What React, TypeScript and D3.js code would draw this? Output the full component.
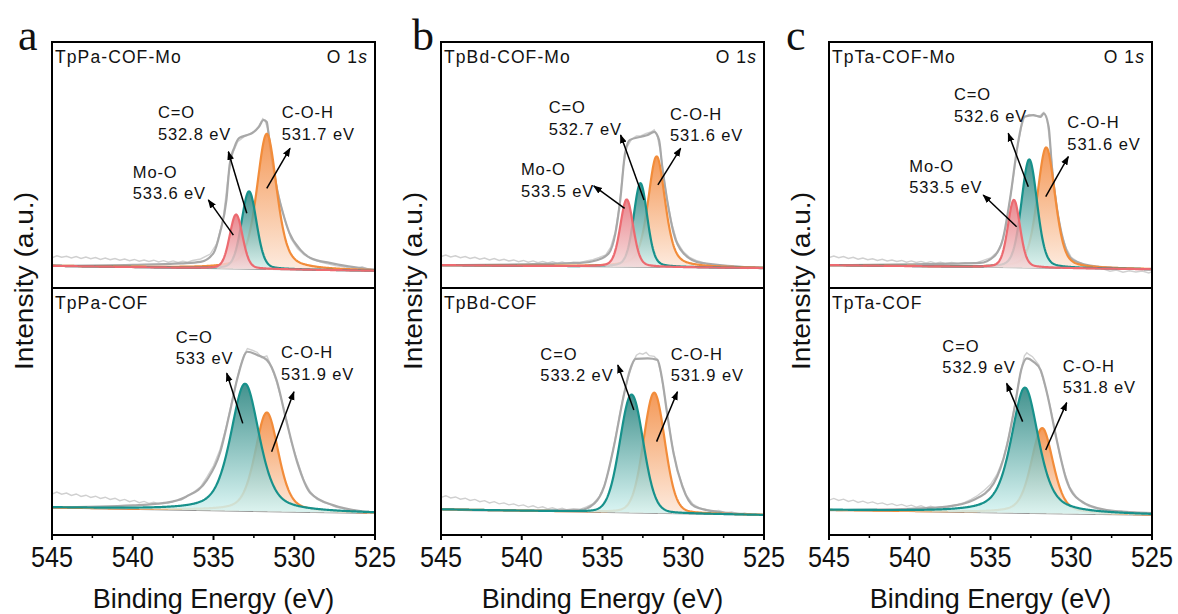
import React from 'react';
import * as d3 from 'd3';

type Pt = [number, number];
// [centre (eV), height above background, FWHM (eV), Lorentzian fraction]
type Peak = [number, number, number, number];
// [first line, second line, eV, intensity of first baseline]
type Label = [string, string, number, number];
// [tail eV, tail intensity, head eV, head intensity]
type Arrow = [number, number, number, number];

const xTicks = [545, 540, 535, 530, 525];
const xMinorTicks = [542.5, 537.5, 532.5, 527.5];
const letters = ['a', 'b', 'c'];
const topNames = ['TpPa-COF-Mo', 'TpBd-COF-Mo', 'TpTa-COF-Mo'];
const bottomNames = ['TpPa-COF', 'TpBd-COF', 'TpTa-COF'];

// linear background: value at 545 eV, value at 525 eV
const bgATop = [9.0, 7.0];
const bgABot = [11.1, 8.8];
const bgBTop = [9.3, 8.1];
const bgBBot = [10.4, 8.1];
const bgCTop = [9.3, 7.6];
const bgCBot = [10.1, 8.1];

// fitted components, order: C-O-H, C=O, Mo-O
const peaksATop: Peak[] = [[531.7, 55, 1.45, 0.45], [532.8, 31.5, 1.1, 0.2], [533.6, 22, 0.95, 0.2]];
const peaksABot: Peak[] = [[531.7, 40, 1.7, 0.4], [533.05, 51.5, 2.1, 0.5]];
const peaksBTop: Peak[] = [[531.65, 45, 1.25, 0.45], [532.65, 34, 1.0, 0.25], [533.5, 27.4, 0.95, 0.25]];
const peaksBBot: Peak[] = [[531.8, 48.7, 1.55, 0.15], [533.2, 47.8, 1.7, 0.1]];
const peaksCTop: Peak[] = [[531.55, 49, 1.3, 0.35], [532.6, 44, 1.15, 0.25], [533.55, 27.5, 0.9, 0.25]];
const peaksCBot: Peak[] = [[531.8, 34.5, 1.6, 0.4], [532.87, 50.8, 2.0, 0.55]];

// fit envelopes
const envATop: Pt[] = [[545, 9.0], [540, 9.4], [537, 10.0], [535.8, 10.6], [535.0, 14.2], [534.6, 22.4], [534.2, 35.8], [534.0, 50.0], [533.7, 57.3], [533.4, 61.0], [532.9, 62.2], [532.6, 63.0], [532.2, 65.4], [531.9, 68.3], [531.7, 67.5], [531.6, 63.0], [531.4, 53.3], [531.1, 41.1], [530.7, 30.5], [530.3, 22.4], [529.6, 15.4], [529.0, 12.2], [527.8, 10.2], [525, 7.3]];
const envABot: Pt[] = [[545, 11.1], [540, 12.0], [537.9, 13.1], [536.7, 15.5], [535.4, 22.3], [534.6, 33.2], [534.0, 49.4], [533.5, 64.0], [532.9, 74.2], [532.3, 72.9], [531.7, 70.9], [531.1, 62.8], [530.5, 46.6], [529.8, 29.1], [529.0, 17.0], [527.6, 12.1], [525, 9.0]];
const envBTop: Pt[] = [[545, 9.3], [540, 9.6], [536.4, 10.2], [535.3, 11.4], [534.6, 14.2], [534.2, 22.3], [533.9, 35.8], [533.6, 54.9], [533.3, 60.2], [532.6, 61.5], [532.2, 62.2], [531.8, 63.5], [531.5, 60.2], [531.3, 49.3], [531.0, 35.8], [530.6, 22.4], [530.0, 14.2], [528.9, 10.2], [525, 8.1]];
const envBBot: Pt[] = [[545, 10.4], [540, 9.9], [536.4, 10.1], [535.5, 12.8], [534.9, 19.6], [534.3, 35.7], [533.7, 56.0], [533.3, 66.8], [532.95, 71.3], [532.2, 71.5], [531.6, 70.9], [531.3, 62.8], [531.0, 49.3], [530.6, 33.1], [530.05, 19.6], [529.3, 11.5], [527.9, 9.4], [525, 8.1]];
const envCTop: Pt[] = [[545, 9.3], [540, 9.6], [535.65, 10.2], [534.8, 12.7], [534.25, 19.5], [533.8, 35.8], [533.3, 58.8], [532.9, 69.6], [532.35, 70.3], [531.9, 69.6], [531.7, 71.0], [531.4, 65.6], [531.2, 49.3], [530.9, 33.0], [530.5, 19.5], [529.9, 11.4], [528.4, 8.7], [525, 7.6]];
const envCBot: Pt[] = [[545, 10.1], [540, 10.6], [537.7, 11.5], [536.05, 14.2], [534.8, 20.9], [534.0, 35.7], [533.5, 51.9], [533.1, 66.8], [532.75, 71.5], [532.35, 70.2], [531.9, 66.8], [531.5, 57.4], [530.9, 38.5], [530.3, 22.3], [529.5, 14.2], [527.8, 10.1], [525, 8.9]];

// measured spectra
const rawATop: Pt[] = [[545, 12.3], [544.7, 13.1], [544.4, 12.5], [544.1, 12.9], [543.8, 12.2], [543.5, 12.8], [543.2, 12.0], [542.9, 12.6], [542.6, 11.9], [542.3, 12.4], [542, 11.6], [541.7, 12.2], [541.4, 11.5], [541.1, 12.0], [540.8, 11.3], [540.5, 11.8], [540.2, 11.1], [539.9, 11.6], [539.6, 10.9], [539.3, 11.4], [539, 10.8], [538.7, 11.3], [538.4, 10.6], [538.1, 11.1], [537.8, 10.5], [537.5, 11.0], [537.2, 10.4], [536.9, 10.9], [536.6, 10.5], [536.3, 11.2], [535.8, 11.8], [535.2, 13.8], [534.8, 18], [534.4, 28], [534.1, 45], [533.8, 55], [533.5, 59.5], [533.1, 61.5], [532.8, 62.6], [532.5, 63.5], [532.2, 65.8], [531.95, 68.8], [531.8, 67.8], [531.6, 64], [531.4, 54], [531.1, 42], [530.8, 33], [530.5, 26], [530.2, 20], [529.8, 16], [529.4, 13.5], [529, 12.2], [528.6, 11], [528.2, 10.2], [527.8, 9.6], [527.4, 9.0], [527, 8.7], [526.6, 8.2], [526.2, 7.9], [525.8, 8.6], [525.4, 7.6], [525, 7.9]];
const rawABot: Pt[] = [[545, 16.6], [544.7, 17.4], [544.4, 16.5], [544.1, 17.0], [543.8, 16.0], [543.5, 16.6], [543.2, 15.6], [542.9, 16.1], [542.6, 15.2], [542.3, 15.7], [542, 14.8], [541.7, 15.3], [541.4, 14.4], [541.1, 14.9], [540.8, 13.9], [540.5, 14.4], [540.2, 13.5], [539.9, 14.0], [539.6, 13.1], [539.3, 13.6], [539, 12.8], [538.7, 13.3], [538.4, 12.6], [538.1, 13.2], [537.8, 12.9], [537.4, 13.8], [537, 14.1], [536.6, 15.8], [536.2, 17.5], [535.8, 19.5], [535.4, 23.5], [535, 28], [534.6, 34.5], [534.2, 44], [533.8, 56], [533.4, 67], [533.1, 73], [532.9, 75.5], [532.6, 74.8], [532.3, 74.0], [532, 71.8], [531.7, 72.5], [531.4, 68], [531.1, 62], [530.8, 55], [530.5, 47.5], [530.2, 38], [529.8, 30], [529.4, 22], [529, 17.5], [528.6, 14.5], [528.2, 13.2], [527.8, 12.4], [527.4, 11.2], [527, 10.8], [526.6, 10.0], [526.2, 9.8], [525.8, 9.2], [525.4, 9.6], [525, 8.9]];
const rawBTop: Pt[] = [[545, 12.8], [544.7, 13.4], [544.4, 12.6], [544.1, 13.1], [543.8, 12.3], [543.5, 12.8], [543.2, 12.0], [542.9, 12.5], [542.6, 11.7], [542.3, 12.2], [542, 11.4], [541.7, 12.0], [541.4, 11.2], [541.1, 11.7], [540.8, 11.0], [540.5, 11.4], [540.2, 10.7], [539.9, 11.2], [539.6, 10.5], [539.3, 11.0], [539, 10.3], [538.7, 10.8], [538.4, 10.2], [538.1, 10.7], [537.8, 10.1], [537.5, 10.6], [537.2, 10.0], [536.8, 10.5], [536.4, 10.3], [536, 11.0], [535.6, 11.5], [535.2, 12.4], [534.8, 13.5], [534.5, 16.5], [534.2, 23], [533.95, 34], [533.7, 50], [533.5, 57], [533.2, 60.5], [532.9, 61.8], [532.6, 61.9], [532.3, 62.8], [532, 63.4], [531.8, 64.3], [531.6, 61.5], [531.4, 55], [531.2, 45], [531, 36], [530.7, 26], [530.4, 19], [530, 14.8], [529.6, 12.4], [529.2, 11.2], [528.8, 10.4], [528.4, 9.5], [528, 9.2], [527.6, 8.6], [527.2, 9.0], [526.8, 8.3], [526.4, 8.7], [526, 7.9], [525.6, 8.4], [525.2, 7.6], [525, 8.0]];
const rawBBot: Pt[] = [[545, 15.2], [544.7, 15.9], [544.4, 15.0], [544.1, 15.4], [543.8, 14.5], [543.5, 14.9], [543.2, 14.0], [542.9, 14.4], [542.6, 13.5], [542.3, 13.9], [542, 13.0], [541.7, 13.5], [541.4, 12.6], [541.1, 13.0], [540.8, 12.2], [540.5, 12.6], [540.2, 11.8], [539.9, 12.2], [539.6, 11.3], [539.3, 11.8], [539, 11.0], [538.7, 11.4], [538.4, 10.6], [538.1, 11.0], [537.8, 10.4], [537.5, 10.8], [537.2, 10.2], [536.8, 10.6], [536.4, 10.4], [536, 11.4], [535.6, 12.6], [535.2, 15.5], [534.9, 19.8], [534.6, 26.5], [534.3, 36], [534, 46.5], [533.7, 56.5], [533.4, 64], [533.1, 70], [532.9, 72.8], [532.7, 73.6], [532.5, 73.2], [532.3, 73.9], [532.1, 72.6], [531.8, 72.3], [531.6, 71.0], [531.4, 66], [531.2, 58], [531, 49.5], [530.7, 37], [530.4, 27], [530.1, 21], [529.8, 16], [529.4, 12.5], [529, 11], [528.6, 10.4], [528.2, 9.6], [527.8, 9.9], [527.4, 9.0], [527, 9.3], [526.6, 8.5], [526.2, 8.9], [525.8, 8.1], [525.4, 8.5], [525, 7.9]];
const rawCTop: Pt[] = [[545, 12.4], [544.7, 13.0], [544.4, 12.3], [544.1, 12.8], [543.8, 12.0], [543.5, 12.5], [543.2, 11.7], [542.9, 12.2], [542.6, 11.5], [542.3, 11.9], [542, 11.2], [541.7, 11.7], [541.4, 11.0], [541.1, 11.4], [540.8, 10.8], [540.5, 11.2], [540.2, 10.5], [539.9, 11.0], [539.6, 10.4], [539.3, 10.8], [539, 10.2], [538.7, 10.7], [538.4, 10.1], [538.1, 10.5], [537.8, 10.0], [537.4, 10.4], [537, 9.9], [536.6, 10.3], [536.2, 10.0], [535.8, 10.4], [535.4, 11.3], [535, 12.2], [534.6, 14.5], [534.3, 18.5], [534, 26], [533.8, 35.5], [533.5, 49], [533.3, 58.5], [533.1, 65], [532.9, 69.5], [532.6, 70.5], [532.35, 70.1], [532.1, 69.8], [531.9, 70.2], [531.7, 71.4], [531.5, 68.5], [531.3, 58], [531.1, 44], [530.9, 33], [530.6, 22], [530.3, 16], [530, 12.5], [529.6, 10.6], [529.2, 9.6], [528.8, 8.8], [528.4, 8.4], [528, 7.7], [527.6, 6.8], [527.2, 7.3], [526.8, 6.4], [526.4, 7.0], [526, 6.5], [525.6, 6.9], [525.2, 6.1], [525, 6.6]];
const rawCBot: Pt[] = [[545, 14.1], [544.7, 14.8], [544.4, 14.0], [544.1, 14.5], [543.8, 13.6], [543.5, 14.1], [543.2, 13.2], [542.9, 13.7], [542.6, 12.9], [542.3, 13.4], [542, 12.6], [541.7, 13.0], [541.4, 12.2], [541.1, 12.7], [540.8, 11.9], [540.5, 12.4], [540.2, 11.6], [539.9, 12.1], [539.6, 11.3], [539.3, 11.8], [539, 11.1], [538.7, 11.6], [538.4, 11.0], [538.1, 11.5], [537.8, 11.2], [537.4, 11.9], [537, 12.4], [536.6, 13.2], [536.2, 14.4], [535.8, 16.0], [535.4, 18.0], [535, 20.4], [534.6, 24.5], [534.2, 31], [533.9, 39], [533.6, 49], [533.3, 60], [533.1, 67], [532.9, 72.5], [532.75, 73.8], [532.6, 73], [532.4, 72.2], [532.2, 70.5], [532, 68.8], [531.8, 64.5], [531.6, 60], [531.3, 52], [531, 42], [530.7, 32], [530.4, 25], [530.1, 19.5], [529.7, 15.5], [529.3, 13], [528.9, 11.6], [528.5, 10.8], [528.1, 10.2], [527.7, 9.8], [527.3, 9.3], [526.9, 9.6], [526.5, 8.8], [526.1, 9.2], [525.7, 8.5], [525.3, 8.9], [525, 8.4]];

// peak annotations (placed in data space)
const labelsATop: Label[] = [['C=O', '532.8 eV', 538.44, 69.0], ['C-O-H', '531.7 eV', 530.78, 69.0], ['Mo-O', '533.6 eV', 540.0, 44.8]];
const labelsABot: Label[] = [['C=O', '533 eV', 537.34, 77.9], ['C-O-H', '531.9 eV', 530.82, 71.5]];
const labelsBTop: Label[] = [['C=O', '532.7 eV', 538.33, 71.0], ['C-O-H', '531.6 eV', 530.82, 68.3], ['Mo-O', '533.5 eV', 540.05, 45.9]];
const labelsBBot: Label[] = [['C=O', '533.2 eV', 538.85, 70.9], ['C-O-H', '531.9 eV', 530.78, 70.9]];
const labelsCTop: Label[] = [['C=O', '532.6 eV', 537.26, 76.4], ['C-O-H', '531.6 eV', 530.24, 64.9], ['Mo-O', '533.5 eV', 540.03, 47.3]];
const labelsCBot: Label[] = [['C=O', '532.9 eV', 537.98, 74.2], ['C-O-H', '531.8 eV', 530.53, 66.1]];

const arrowsATop: Arrow[] = [[532.94, 30.4, 534.08, 55.4], [531.7, 40.5, 530.26, 56.8], [533.77, 21.5, 535.32, 35.8]];
const arrowsABot: Arrow[] = [[533.19, 45.2, 534.18, 65.5], [531.4, 33.7, 530.02, 58.0]];
const arrowsBTop: Arrow[] = [[532.43, 35.8, 533.88, 62.2], [531.57, 41.9, 530.16, 56.8], [533.63, 32.4, 535.54, 41.5]];
const arrowsBBot: Arrow[] = [[533.06, 50.6, 534.05, 68.8], [531.65, 37.8, 530.36, 58.0]];
const arrowsCTop: Arrow[] = [[532.66, 41.2, 533.9, 62.9], [531.58, 37.1, 530.18, 53.4], [533.38, 24.9, 535.45, 37.8]];
const arrowsCBot: Arrow[] = [[533.01, 45.9, 534.0, 61.4], [531.58, 34.4, 530.28, 53.6]];

const panels = [
  { top: [bgATop, peaksATop, envATop, rawATop, labelsATop, arrowsATop], bot: [bgABot, peaksABot, envABot, rawABot, labelsABot, arrowsABot] },
  { top: [bgBTop, peaksBTop, envBTop, rawBTop, labelsBTop, arrowsBTop], bot: [bgBBot, peaksBBot, envBBot, rawBBot, labelsBBot, arrowsBBot] },
  { top: [bgCTop, peaksCTop, envCTop, rawCTop, labelsCTop, arrowsCTop], bot: [bgCBot, peaksCBot, envCBot, rawCBot, labelsCBot, arrowsCBot] },
];

const W = 1178;
const H = 614;
const panelLeft = [52, 441, 829];
const panelWidth = 323;
const yTop = 42;
const yMid = 288;
const yBot = 535;
const SANS = "Arial, 'Liberation Sans', sans-serif";
const SERIF = "'Times New Roman', 'Liberation Serif', serif";

const strokeCols = ['#f28c3a', '#17918b', '#ec6a70'];
const gradIds = ['gOrange', 'gTeal', 'gRed'];

// pseudo-Voigt profile
const profile = (e: number, p: Peak) => {
  const d = (e - p[0]) / (p[2] / 2);
  return p[1] * (p[3] / (1 + d * d) + (1 - p[3]) * Math.exp(-Math.LN2 * d * d));
};

const grid = d3.range(545, 524.999, -0.04);

function Spectrum({ x, top, bottom, data, name, core, clipKey }: any) {
  const [bg, peaks, env, raw, labels, arrows] = data;
  const y = d3.scaleLinear().domain([0, 100]).range([bottom, top]);
  const bl = (e: number) => bg[0] + ((bg[1] - bg[0]) * (545 - e)) / 20;
  const line = d3.line<Pt>().x((d) => x(d[0])).y((d) => y(d[1]));
  const smooth = d3.line<Pt>().x((d) => x(d[0])).y((d) => y(d[1])).curve(d3.curveMonotoneX);
  const area = d3.area<Pt>().x((d) => x(d[0])).y0((d) => y(bl(d[0]))).y1((d) => y(d[1]));
  const left = x.range()[0];
  const right = x.range()[1];
  const comps = peaks.map((p: Peak) => grid.map((e) => [e, bl(e) + profile(e, p)] as Pt));
  return (
    <g>
      <clipPath id={clipKey}>
        <rect x={left} y={top} width={right - left} height={bottom - top} />
      </clipPath>
      <g clipPath={`url(#${clipKey})`}>
        <path d={line(raw) || ''} fill="none" stroke="#d0d0d0" strokeWidth={1.4} />
        <path d={line([[545, bg[0]], [525, bg[1]]]) || ''} fill="none" stroke="#8e8e8e" strokeWidth={1.6} />
        <path d={smooth(env) || ''} fill="none" stroke="#a8a8a8" strokeWidth={2.2} />
        {comps.map((c: Pt[], i: number) => (
          <g key={i}>
            <path d={area(c) || ''} fill={`url(#${gradIds[i]})`} fillOpacity={0.85} />
            <path d={line(c) || ''} fill="none" stroke={strokeCols[i]} strokeWidth={2.2} />
          </g>
        ))}
      </g>
      {arrows.map((a: Arrow, i: number) => (
        <line key={`a${i}`} x1={x(a[0])} y1={y(a[1])} x2={x(a[2])} y2={y(a[3])}
          stroke="#000" strokeWidth={1.5} markerEnd="url(#arrowHead)" />
      ))}
      {labels.map((l: Label, i: number) => (
        <text key={`l${i}`} x={x(l[2])} y={y(l[3])} fontFamily={SANS} fontSize={16.5}
          letterSpacing={0.9} fill="#111">
          <tspan>{l[0]}</tspan>
          <tspan x={x(l[2])} dy={21.5}>{l[1]}</tspan>
        </text>
      ))}
      <text x={left + 3} y={top + 21} fontFamily={SANS} fontSize={17.5} letterSpacing={1.1} fill="#111">{name}</text>
      {core && (
        <text x={right - 7} y={top + 21} textAnchor="end" fontFamily={SANS} fontSize={17.5} letterSpacing={1.1} fill="#111">
          O 1<tspan fontStyle="italic">s</tspan>
        </text>
      )}
    </g>
  );
}

export default function App() {
  return (
    <svg width={W} height={H} viewBox={`0 0 ${W} ${H}`}
      style={{ display: 'block', background: '#fff', position: 'absolute', left: 0, top: 0 }}>
      <defs>
        <linearGradient id="gOrange" x1="0" y1="0" x2="0" y2="1">
          <stop offset="0%" stopColor="#f2873a" />
          <stop offset="100%" stopColor="#fde8da" />
        </linearGradient>
        <linearGradient id="gTeal" x1="0" y1="0" x2="0" y2="1">
          <stop offset="0%" stopColor="#217f7a" />
          <stop offset="100%" stopColor="#d8f6f4" />
        </linearGradient>
        <linearGradient id="gRed" x1="0" y1="0" x2="0" y2="1">
          <stop offset="0%" stopColor="#e5727a" />
          <stop offset="100%" stopColor="#f6d9da" />
        </linearGradient>
        <marker id="arrowHead" viewBox="0 0 10 10" refX={9} refY={5} markerWidth={9} markerHeight={9}
          markerUnits="userSpaceOnUse" orient="auto">
          <path d="M0,1.2 L10,5 L0,8.8 z" fill="#000" />
        </marker>
      </defs>
      {panels.map((p, k) => {
        const left = panelLeft[k];
        const x = d3.scaleLinear().domain([545, 525]).range([left, left + panelWidth]);
        return (
          <g key={k}>
            <Spectrum x={x} top={yTop} bottom={yMid} data={p.top} name={topNames[k]} core clipKey={`ct${k}`} />
            <Spectrum x={x} top={yMid} bottom={yBot} data={p.bot} name={bottomNames[k]} clipKey={`cb${k}`} />
            <rect x={left} y={yTop} width={panelWidth} height={yBot - yTop} fill="none" stroke="#000" strokeWidth={2} />
            <line x1={left} x2={left + panelWidth} y1={yMid} y2={yMid} stroke="#000" strokeWidth={2} />
            {xTicks.map((t) => (
              <g key={t}>
                <line x1={x(t)} x2={x(t)} y1={yBot} y2={yBot + 5} stroke="#000" strokeWidth={2} />
                <text x={x(t)} y={567} textAnchor="middle" fontFamily={SANS} fontSize={30}
                  textLength={42} lengthAdjust="spacingAndGlyphs" fill="#111">{t}</text>
              </g>
            ))}
            {xMinorTicks.map((t) => (
              <line key={t} x1={x(t)} x2={x(t)} y1={yBot} y2={yBot + 3} stroke="#000" strokeWidth={1.5} />
            ))}
            <text x={left + panelWidth / 2} y={608} textAnchor="middle" fontFamily={SANS} fontSize={27} fill="#111">
              Binding Energy (eV)
            </text>
            <text transform={`translate(${left - 19},281) rotate(-90)`} textAnchor="middle" fontFamily={SANS}
              fontSize={25} textLength={178} lengthAdjust="spacingAndGlyphs" fill="#111">
              Intensity (a.u.)
            </text>
            <text x={[18, 412, 786][k]} y={50} fontFamily={SERIF} fontSize={44} fill="#111">{letters[k]}</text>
          </g>
        );
      })}
    </svg>
  );
}
